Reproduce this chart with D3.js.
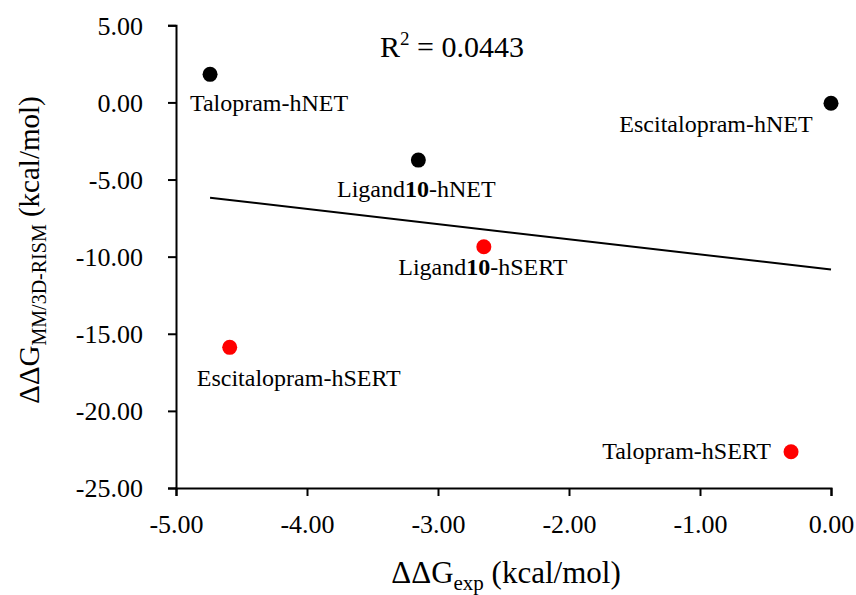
<!DOCTYPE html>
<html><head><meta charset="utf-8">
<script src="https://cdn.jsdelivr.net/npm/d3@7"></script>
<style>body{margin:0;background:#fff}svg{display:block}text{font-family:"Liberation Serif",serif;fill:#000}</style>
</head><body><svg id="c" width="856" height="595"></svg>
<script>
const names = ["Talopram-hNET","Escitalopram-hNET","Ligand10-hNET","Ligand10-hSERT","Escitalopram-hSERT","Talopram-hSERT"];
const xExp = [-4.74, 0.00, -3.15, -2.65, -4.59, -0.305];
const yCalc = [1.82, -0.05, -3.74, -9.36, -15.88, -22.65];
const groups = ["hNET","hNET","hNET","hSERT","hSERT","hSERT"];
const xTicks = [-5,-4,-3,-2,-1,0];
const yTicks = [5,0,-5,-10,-15,-20,-25];
const r2Text = "0.0443";

// label placement (pixel offsets from point, style only)
const labelOffsets = [[59,37,"middle"],[-115,29,"middle"],[-2,37,"middle"],[-1,28,"middle"],[69,39,"middle"],[-20,7,"end"]];

const svg = d3.select("#c");
const x = d3.scaleLinear().domain([-5,0]).range([176,831]);
const y = d3.scaleLinear().domain([-25,5]).range([488,25.3]);
const fmt = d => d.toFixed(2);
const color = {hNET:"#000000", hSERT:"#ff0000"};

const gx = svg.append("g").attr("transform","translate(0,488)")
  .call(d3.axisBottom(x).tickValues(xTicks).tickFormat(fmt).tickSize(8).tickPadding(14));
const gy = svg.append("g").attr("transform","translate(176,0)")
  .call(d3.axisLeft(y).tickValues(yTicks).tickFormat(fmt).tickSize(8).tickPadding(25));
[gx,gy].forEach(g=>{
  g.select(".domain").attr("stroke","#000").attr("stroke-width",2);
  g.selectAll(".tick line").attr("stroke","#000").attr("stroke-width",2);
  g.selectAll(".tick text").style("font-family","Liberation Serif").style("font-size","26px").attr("fill","#000");
});
gx.selectAll(".tick text").attr("dy","0.9em");
gy.selectAll(".tick text").attr("dy","0.34em");

// regression trendline
const n = xExp.length;
const mx = d3.mean(xExp), my = d3.mean(yCalc);
let sxy=0,sxx=0; for(let i=0;i<n;i++){sxy+=(xExp[i]-mx)*(yCalc[i]-my); sxx+=(xExp[i]-mx)**2;}
const slope=sxy/sxx, icpt=my-slope*mx;
const [x0,x1]=d3.extent(xExp);
svg.append("path").attr("d",d3.line()([[x(x0),y(icpt+slope*x0)],[x(x1),y(icpt+slope*x1)]]))
  .attr("stroke","#000").attr("stroke-width",2).attr("fill","none");

// points
svg.selectAll("circle.pt").data(d3.range(n)).join("circle")
  .attr("cx",i=>x(xExp[i])).attr("cy",i=>y(yCalc[i])).attr("r",7.5)
  .attr("fill",i=>color[groups[i]]);

// labels
const lab = svg.selectAll("text.lab").data(d3.range(n)).join("text")
  .attr("class","lab")
  .attr("x",i=>x(xExp[i])+labelOffsets[i][0])
  .attr("y",i=>y(yCalc[i])+labelOffsets[i][1])
  .attr("text-anchor",i=>labelOffsets[i][2])
  .style("font-size","24px");
lab.each(function(i){
  const t=d3.select(this); const s=names[i];
  const m=s.match(/^(Ligand)(10)(-.*)$/);
  if(m){ t.append("tspan").text(m[1]); t.append("tspan").attr("font-weight","bold").text(m[2]); t.append("tspan").text(m[3]); }
  else t.text(s);
});

// R^2
const rt = svg.append("text").attr("x",452).attr("y",57).attr("text-anchor","middle").style("font-size","30px");
rt.append("tspan").text("R");
rt.append("tspan").attr("dy",-12).style("font-size","19px").text("2");
rt.append("tspan").attr("dy",12).text(" = "+r2Text);

// x title
const xt = svg.append("text").attr("x",506).attr("y",583).attr("text-anchor","middle").style("font-size","31px");
xt.append("tspan").text("ΔΔG");
xt.append("tspan").attr("dy",7).style("font-size","21px").text("exp");
xt.append("tspan").attr("dy",-7).text(" (kcal/mol)");

// y title
const yt = svg.append("text").attr("transform","translate(39,250) rotate(-90)").attr("text-anchor","middle").style("font-size","29px");
yt.append("tspan").text("ΔΔG");
yt.append("tspan").attr("dy",7).style("font-size","20px").text("MM/3D-RISM");
yt.append("tspan").attr("dy",-7).text(" (kcal/mol)");
</script></body></html>
